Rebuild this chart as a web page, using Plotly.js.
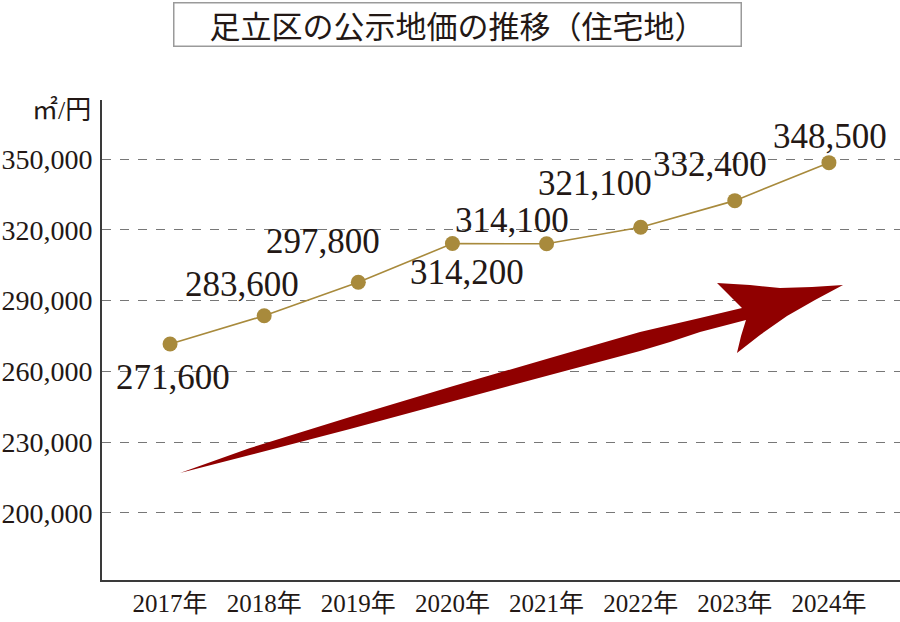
<!DOCTYPE html>
<html>
<head>
<meta charset="utf-8">
<script src="https://cdn.plot.ly/plotly-3.0.1.min.js"></script>
<style>html,body{margin:0;padding:0;background:#fff;}#chart{width:900px;height:622px;}</style>
</head>
<body>
<div id="chart"></div>
<script>
// ---- data ----
const years = ['2017年', '2018年', '2019年', '2020年', '2021年', '2022年', '2023年', '2024年'];
const prices = [271600, 283600, 297800, 314200, 314100, 321100, 332400, 348500];
const yTickValues = [200000, 230000, 260000, 290000, 320000, 350000];
const chartTitle = '足立区の公示地価の推移（住宅地）';
const unitLabel = '㎡/円';

// ---- styling ----
const labelShift = [[3, -33], [-22, 31], [-35, 41], [15, -29], [-35, 23], [-46, 44], [-25, 36], [1, 26]];
const W = 900, H = 622, M = {l: 102, r: 0, t: 100, b: 42};
const serif = '"Liberation Serif", "Noto Sans CJK JP", serif';
const gold = '#A88A3C';
const ink = '#231815';

function px(x) { return ((x - M.l) / (W - M.l - M.r)).toFixed(4); }
function py(y) { return ((H - M.b - y) / (H - M.t - M.b)).toFixed(4); }

// decorative trend arrow outline (pixel coordinates)
const arrowPts = [[180,473],[250,448],[350,417],[450,387],[550,358],[640,332],[700,318],[742,308],
  [717,283],[750,285],[780,288],[812,287],[843,285],[815,300],[787,316],[760,335],[737,353],
  [741,336],[746,320],[700,332],[670,342],[640,351],[550,375],[450,402],[350,429],[250,455]];
const arrowPath = 'M ' + arrowPts.map(p => px(p[0]) + ' ' + py(p[1])).join(' L ') + ' Z';

const labelAnnotations = prices.map((v, i) => ({
  x: years[i], y: v, xref: 'x', yref: 'y',
  text: v.toLocaleString('en-US'), showarrow: false,
  xshift: labelShift[i][0], yshift: labelShift[i][1],
  font: {family: serif, size: 35, color: ink}
}));

const trace = {
  x: years, y: prices, type: 'scatter', mode: 'lines+markers',
  line: {color: gold, width: 1.6},
  marker: {color: gold, size: 15},
  hoverinfo: 'skip', cliponaxis: false
};

const layout = {
  width: W, height: H,
  margin: M,
  paper_bgcolor: '#fff', plot_bgcolor: '#fff',
  showlegend: false,
  xaxis: {
    type: 'category', range: [-0.723, 7.755], fixedrange: true,
    showgrid: false, zeroline: false,
    showline: true, linecolor: '#3a3a3a', linewidth: 2,
    ticks: '', ticklabelstandoff: 0,
    tickfont: {family: serif, size: 25, color: ink}
  },
  yaxis: {
    range: [171550, 375070], fixedrange: true,
    tickmode: 'array', tickvals: yTickValues, tickformat: ',d',
    showgrid: true, gridcolor: '#777', griddash: 'dash', gridwidth: 1,
    zeroline: false,
    showline: true, linecolor: '#3a3a3a', linewidth: 2,
    ticks: '', ticklabelstandoff: 2,
    tickfont: {family: serif, size: 28, color: ink}
  },
  shapes: [{
    type: 'path', xref: 'paper', yref: 'paper', path: arrowPath,
    fillcolor: '#900000', line: {width: 0}, layer: 'above'
  }],
  annotations: [
    {
      xref: 'paper', yref: 'paper', x: px(457), y: py(25),
      xanchor: 'center', yanchor: 'middle',
      text: chartTitle, showarrow: false,
      width: 562, height: 38, bordercolor: '#9a9a9a', borderwidth: 1.5, borderpad: 2,
      bgcolor: '#fff',
      font: {family: '"Noto Sans CJK JP", sans-serif', size: 31, color: ink}
    },
    {
      xref: 'paper', yref: 'paper', x: px(93), y: py(111),
      xanchor: 'right', yanchor: 'middle',
      text: unitLabel, showarrow: false,
      font: {family: serif, size: 26, color: ink}
    }
  ].concat(labelAnnotations)
};

Plotly.newPlot('chart', [trace], layout, {displayModeBar: false, staticPlot: true});
</script>
</body>
</html>
